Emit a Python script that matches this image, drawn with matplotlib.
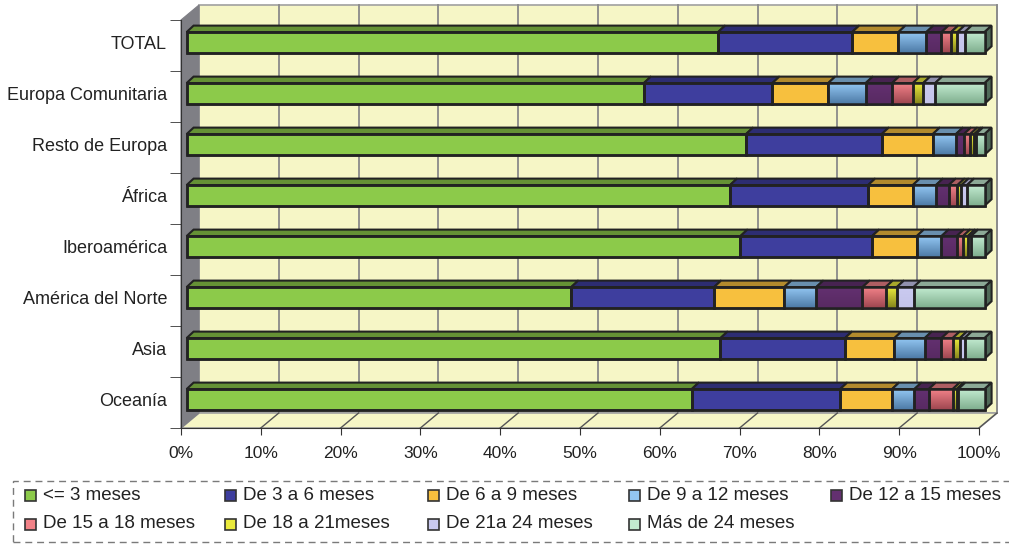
import numpy as np
import matplotlib.pyplot as plt
from matplotlib.patches import Polygon, Rectangle
from matplotlib.colors import LinearSegmentedColormap, to_rgb

plt.rcParams['font.family'] = ['Liberation Sans', 'DejaVu Sans']

# Datos: porcentaje de cada tramo de tiempo por región
regiones = ["TOTAL", "Europa Comunitaria", "Resto de Europa", "África",
            "Iberoamérica", "América del Norte", "Asia", "Oceanía"]
series = ["<= 3 meses", "De 3 a 6 meses", "De 6 a 9 meses", "De 9 a 12 meses",
          "De 12 a 15 meses", "De 15 a 18 meses", "De 18 a 21meses",
          "De 21a 24 meses", "Más de 24 meses"]

hasta_3 = [66.6, 57.3, 70.1, 68.1, 69.4, 48.2, 66.9, 63.3]
de_3_a_6 = [16.8, 16.1, 17.0, 17.3, 16.5, 17.9, 15.6, 18.6]
de_6_a_9 = [5.8, 7.0, 6.4, 5.6, 5.6, 8.8, 6.2, 6.5]
de_9_a_12 = [3.5, 4.7, 2.9, 2.9, 3.1, 4.0, 3.8, 2.8]
de_12_a_15 = [1.9, 3.3, 1.0, 1.6, 1.9, 5.8, 2.1, 1.8]
de_15_a_18 = [1.2, 2.6, 0.8, 1.1, 0.8, 2.9, 1.4, 3.0]
de_18_a_21 = [0.8, 1.3, 0.5, 0.5, 0.6, 1.4, 0.9, 0.5]
de_21_a_24 = [0.9, 1.5, 0.2, 0.7, 0.4, 2.1, 0.6, 0.2]
mas_24 = [2.5, 6.2, 1.1, 2.2, 1.7, 8.9, 2.5, 3.3]

valores = [hasta_3, de_3_a_6, de_6_a_9, de_9_a_12, de_12_a_15,
           de_15_a_18, de_18_a_21, de_21_a_24, mas_24]

# colores: (arriba, abajo) para simular el degradado de Excel
colores = [("#8cca4a", "#8cca4a"), ("#3e3e9e", "#3e3e9e"), ("#f7c03e", "#f7c03e"),
           ("#92c6f2", "#4d7aa6"), ("#633070", "#582a62"), ("#f28288", "#9e4650"),
           ("#eaea3c", "#86861c"), ("#cacaf0", "#c4c4ea"), ("#c2ebd0", "#7fae8e")]

texto = "#222222"
borde = "#222222"

fig = plt.figure(figsize=(10.09, 5.45), dpi=100)
W, H = 1009, 545
ax = fig.add_axes([181 / W, (H - 428) / H, 798 / W, 408 / H])

# profundidad de las paredes (en unidades de datos)
px_x = 798 / 100
px_y = 408 / 8
pdx, pdy = 18 / px_x, -15 / px_y

pared = "#f6f6c6"
# pared del fondo
ax.add_patch(Polygon([(pdx, 7.5 + pdy), (100 + pdx, 7.5 + pdy), (100 + pdx, -0.5 + pdy),
                      (pdx, -0.5 + pdy)], closed=True, facecolor=pared,
                     edgecolor="#a0a0a0", lw=1.2, zorder=0, clip_on=False))
# suelo
ax.add_patch(Polygon([(0, 7.5), (100, 7.5), (100 + pdx, 7.5 + pdy), (pdx, 7.5 + pdy)],
                     closed=True, facecolor=pared, edgecolor="#a0a0a0", lw=1.2,
                     zorder=0.5, clip_on=False))
# pared izquierda
ax.add_patch(Polygon([(0, 7.5), (0, -0.5), (pdx, -0.5 + pdy), (pdx, 7.5 + pdy)],
                     closed=True, facecolor="#7f7f85", edgecolor="#7f7f85", lw=0.8,
                     zorder=0.6, clip_on=False))

for x in range(10, 101, 10):
    ax.plot([x + pdx, x + pdx], [7.5 + pdy, -0.5 + pdy], color="#8a8a8a", lw=1.3,
            zorder=0.4, clip_on=False)
    ax.plot([x, x + pdx], [7.5, 7.5 + pdy], color="#555555", lw=1.0,
            zorder=0.7, clip_on=False)

# barras
bdx, bdy = 0.7, -0.06      # desplazamiento de la cara frontal de las barras
tdx, tdy = 7 / px_x, -6.5 / px_y  # profundidad de las barras
alto = 0.405
ypos = np.arange(len(regiones)) + bdy


def oscurecer(c, f=0.72):
    return tuple(v * f for v in to_rgb(c))


izq = np.zeros(len(regiones))
for k, vals in enumerate(valores):
    vals = np.array(vals)
    arriba, abajo = colores[k]
    rects = ax.barh(ypos, vals, left=izq + bdx, height=alto, color=arriba,
                    edgecolor=borde, lw=1.8, zorder=3)
    cmap = LinearSegmentedColormap.from_list("g%d" % k, [arriba, abajo])
    for r in rects:
        r.set_clip_on(False)
        x0, y0 = r.get_x(), r.get_y()
        w, h = r.get_width(), r.get_height()
        if arriba != abajo:
            im = ax.imshow(np.linspace(0, 1, 32).reshape(-1, 1), cmap=cmap, aspect="auto",
                           extent=(x0, x0 + w, y0 + h, y0), zorder=3.1,
                           interpolation="bilinear")
            im.set_clip_path(r)
        ax.add_patch(Rectangle((x0, y0), w, h, fill=False, edgecolor=borde, lw=1.8,
                               zorder=3.2, clip_on=False))
        # cara superior
        ax.add_patch(Polygon([(x0, y0), (x0 + w, y0), (x0 + w + tdx, y0 + tdy),
                              (x0 + tdx, y0 + tdy)], closed=True,
                             facecolor=oscurecer(arriba), edgecolor=borde, lw=1.5,
                             zorder=2.9, clip_on=False))
        if k == len(valores) - 1:
            # cara lateral derecha
            ax.add_patch(Polygon([(x0 + w, y0), (x0 + w + tdx, y0 + tdy),
                                  (x0 + w + tdx, y0 + h + tdy), (x0 + w, y0 + h)],
                                 closed=True, facecolor="#4f6a58", edgecolor=borde,
                                 lw=1.5, zorder=2.9, clip_on=False))
    izq += vals

ax.set_xlim(0, 100)
ax.set_ylim(7.5, -0.5)

# ejes
for s in ["top", "right"]:
    ax.spines[s].set_visible(False)
ax.spines["left"].set_color("#333333")
ax.spines["bottom"].set_color("#333333")
ax.spines["left"].set_zorder(1)
ax.spines["bottom"].set_zorder(1)

ax.set_xticks(range(0, 101, 10))
ax.set_xticklabels(["%d%%" % v for v in range(0, 101, 10)], fontsize=12.5, color=texto)
ax.tick_params(axis="x", length=5, color="#333333", pad=8)

ax.set_yticks(np.arange(len(regiones)) - 0.05)
ax.set_yticklabels(regiones, fontsize=13, color=texto)
ax.set_yticks(np.arange(-0.5, len(regiones), 1), minor=True)
ax.tick_params(axis="y", which="major", length=0, pad=10)
ax.tick_params(axis="y", which="minor", length=8, color="#333333")

# leyenda
fig.add_artist(Rectangle((13 / W, 1 - 542 / H), 1.2, 61 / H, transform=fig.transFigure,
                         fill=False, edgecolor="#7a7a7a", lw=1.0, linestyle=(0, (5, 3.5)),
                         clip_on=False))
col_x = [30, 230, 433, 634, 836]
fila_y = [495, 524]
for k, nombre in enumerate(series):
    cx, cy = col_x[k % 5], fila_y[k // 5]
    arriba, abajo = colores[k]
    fig.add_artist(Rectangle(((cx - 5.5) / W, 1 - (cy + 5.5) / H), 11 / W, 11 / H,
                             transform=fig.transFigure, facecolor=arriba,
                             edgecolor="#333333", lw=1.2))
    fig.text((cx + 13) / W, 1 - cy / H, nombre, fontsize=13.5, color=texto,
             va="center", ha="left")

fig.savefig("out.png", dpi=100)
